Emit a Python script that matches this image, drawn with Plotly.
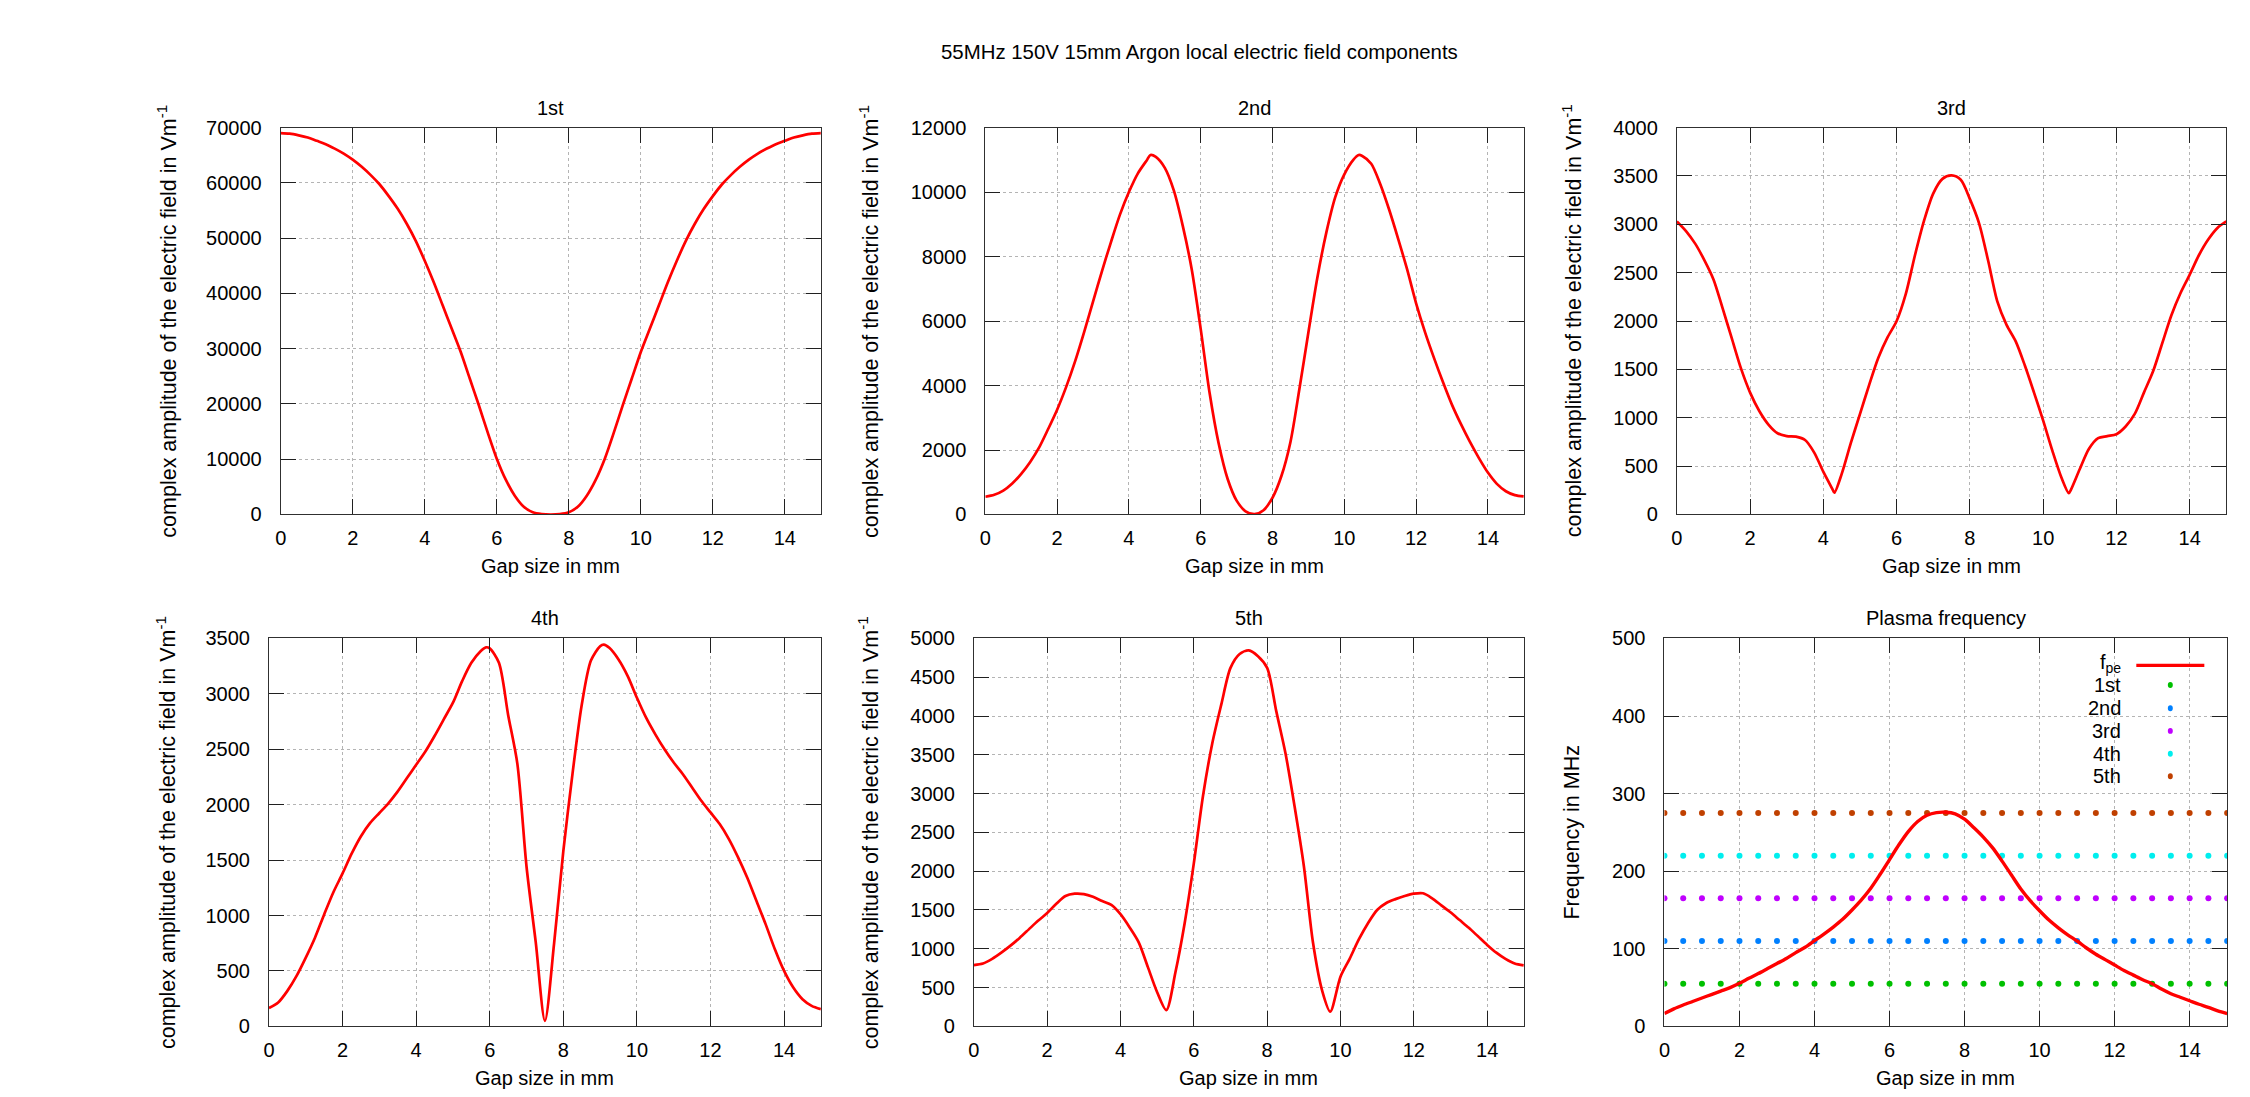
import plotly.graph_objects as go

W, H = 2250, 1097
FONT = "Liberation Sans"

# ---------------- data ----------------
# gap position in mm (quarter-mm grid, with a few extra points at extrema)
x_1st = [0, 0.25, 0.5, 0.75, 1.0, 1.25, 1.5, 1.75, 2.0, 2.25, 2.5, 2.75, 3.0, 3.25, 3.5, 3.75,
         4.0, 4.25, 4.5, 4.75, 5.0, 5.25, 5.5, 5.75, 6.0, 6.25, 6.5, 6.75, 7.0, 7.25, 7.5,
         7.75, 8.0, 8.25, 8.5, 8.75, 9.0, 9.25, 9.5, 9.75, 10.0, 10.25, 10.5, 10.75, 11.0,
         11.25, 11.5, 11.75, 12.0, 12.25, 12.5, 12.75, 13.0, 13.25, 13.5, 13.75, 14.0, 14.25,
         14.5, 14.75, 15.0]
e_1st = [69000, 68900, 68600, 68200, 67600, 67000, 66200, 65300, 64200, 62900, 61400, 59700,
         57600, 55300, 52600, 49500, 45900, 42000, 37800, 33600, 29400, 24600, 19800, 14800,
         10100, 6300, 3400, 1400, 400, 80, 0,
         80, 400, 1400, 3400, 6300, 10100, 14800, 19800, 24600, 29400, 33600, 37800, 42000,
         45900, 49500, 52600, 55300, 57600, 59700, 61400, 62900, 64200, 65300, 66200, 67000,
         67600, 68200, 68600, 68900, 69000]

x_2nd = [0, 0.25, 0.5, 0.75, 1.0, 1.25, 1.5, 1.75, 2.0, 2.25, 2.5, 2.75, 3.0, 3.25, 3.5, 3.75,
         4.0, 4.25, 4.5, 4.6, 4.75, 5.0, 5.25, 5.5, 5.75, 6.0, 6.25, 6.5, 6.75, 7.0, 7.25, 7.5,
         7.75, 8.0, 8.25, 8.5, 8.75, 9.0, 9.25, 9.5, 9.75, 10.0, 10.25, 10.4, 10.5, 10.75, 11.0,
         11.25, 11.5, 11.75, 12.0, 12.25, 12.5, 12.75, 13.0, 13.25, 13.5, 13.75, 14.0, 14.25,
         14.5, 14.75, 15.0]
e_2nd = [550, 610, 740, 960, 1260, 1630, 2080, 2650, 3250, 3950, 4750, 5650, 6600, 7550, 8450,
         9300, 10000, 10580, 10990, 11150, 11090, 10750, 10050, 8950, 7600, 5750, 3750, 2200,
         1100, 430, 100, 10, 130, 520, 1200, 2250, 3900, 5650, 7350, 8750, 9850, 10550, 11000,
         11150, 11120, 10880, 10250, 9450, 8550, 7600, 6550, 5650, 4850, 4100, 3400, 2800,
         2250, 1750, 1300, 950, 720, 600, 560]

x_3rd = [0, 0.25, 0.5, 0.75, 1.0, 1.25, 1.5, 1.75, 2.0, 2.25, 2.5, 2.75, 3.0, 3.25, 3.5, 3.75,
         4.0, 4.25, 4.3, 4.5, 4.75, 5.0, 5.25, 5.5, 5.75, 6.0, 6.25, 6.5, 6.75, 7.0, 7.25, 7.5,
         7.75, 8.0, 8.25, 8.5, 8.75, 9.0, 9.25, 9.5, 9.75, 10.0, 10.25, 10.5, 10.7, 10.75, 11.0,
         11.25, 11.5, 11.75, 12.0, 12.25, 12.5, 12.75, 13.0, 13.25, 13.5, 13.75, 14.0, 14.25,
         14.5, 14.75, 15.0]
e_3rd = [3030, 2930, 2800, 2630, 2430, 2130, 1820, 1510, 1260, 1070, 930, 840, 810, 805, 770,
         640, 440, 260, 225, 420, 740, 1040, 1340, 1620, 1830, 2000, 2280, 2680, 3040, 3320,
         3470, 3505, 3460, 3260, 3010, 2620, 2200, 1960, 1790, 1540, 1260, 970, 660, 380, 220,
         250, 470, 680, 790, 810, 830, 910, 1040, 1260, 1480, 1770, 2060, 2290, 2480, 2680,
         2840, 2960, 3030]

x_4th = [0, 0.25, 0.5, 0.75, 1.0, 1.25, 1.5, 1.75, 2.0, 2.25, 2.5, 2.75, 3.0, 3.25, 3.5, 3.75,
         4.0, 4.25, 4.5, 4.75, 5.0, 5.25, 5.5, 5.75, 5.9, 6.0, 6.25, 6.5, 6.75, 7.0, 7.25, 7.5,
         7.75, 8.0, 8.25, 8.5, 8.75, 9.0, 9.1, 9.25, 9.5, 9.75, 10.0, 10.25, 10.5, 10.75, 11.0,
         11.25, 11.5, 11.75, 12.0, 12.25, 12.5, 12.75, 13.0, 13.25, 13.5, 13.75, 14.0, 14.25,
         14.5, 14.75, 15.0]
e_4th = [165, 215, 320, 455, 620, 800, 1010, 1210, 1380, 1560, 1715, 1835, 1925, 2015, 2120,
         2240, 2360, 2480, 2620, 2770, 2920, 3115, 3280, 3385, 3420, 3410, 3280, 2810, 2370,
         1440, 760, 50, 750, 1580, 2280, 2900, 3300, 3430, 3445, 3415, 3310, 3160, 2965, 2785,
         2635, 2500, 2380, 2275, 2155, 2035, 1930, 1825, 1690, 1525, 1340, 1130, 920, 695, 500,
         350, 245, 185, 155]

x_5th = [0, 0.25, 0.5, 0.75, 1.0, 1.25, 1.5, 1.75, 2.0, 2.25, 2.5, 2.75, 3.0, 3.25, 3.5, 3.75,
         4.0, 4.25, 4.5, 4.75, 5.0, 5.25, 5.5, 5.75, 6.0, 6.25, 6.5, 6.75, 7.0, 7.25, 7.5,
         7.75, 8.0, 8.25, 8.5, 8.75, 9.0, 9.25, 9.5, 9.72, 10.0, 10.25, 10.5, 10.75, 11.0,
         11.25, 11.5, 11.75, 12.0, 12.25, 12.5, 12.75, 13.0, 13.25, 13.5, 13.75, 14.0, 14.25,
         14.5, 14.75, 15.0]
e_5th = [790, 810, 870, 950, 1040, 1140, 1250, 1360, 1460, 1580, 1680, 1710, 1705, 1670, 1615,
         1565, 1445, 1275, 1080, 760, 440, 210, 700, 1330, 2100, 2970, 3640, 4150, 4620, 4800,
         4845, 4770, 4620, 4060, 3520, 2830, 2070, 1080, 460, 190, 640, 870, 1120, 1330, 1500,
         1590, 1640, 1680, 1710, 1715, 1650, 1560, 1470, 1370, 1270, 1160, 1050, 950, 870, 810,
         785]

# electron plasma frequency across the gap (MHz)
x_fpe = [0, 0.25, 0.5, 0.75, 1.0, 1.25, 1.5, 1.75, 2.0, 2.25, 2.5, 2.75, 3.0, 3.25, 3.5, 3.75,
         4.0, 4.25, 4.5, 4.75, 5.0, 5.25, 5.5, 5.75, 6.0, 6.25, 6.5, 6.75, 7.0, 7.25, 7.5,
         7.75, 8.0, 8.25, 8.5, 8.75, 9.0, 9.25, 9.5, 9.75, 10.0, 10.25, 10.5, 10.75, 11.0,
         11.25, 11.5, 11.75, 12.0, 12.25, 12.5, 12.75, 13.0, 13.25, 13.5, 13.75, 14.0, 14.25,
         14.5, 14.75, 15.0]
f_pe = [16.5, 22.5, 27.5, 32, 36.5, 41, 45.5, 50, 55.5, 62, 68, 74.5, 81, 87.5, 95, 102, 110.5,
        119, 128, 138, 150, 163, 178, 196, 215, 234, 251, 264, 272, 275.5, 276,
        274, 267, 256, 244, 230, 213, 195, 177, 162, 149, 137, 127, 118, 110, 101, 93, 86, 79,
        72, 66, 60, 55, 48, 42, 37.5, 33, 28.5, 24.5, 20, 16.5]

# harmonics of the 55 MHz drive
harmonic_names = ["1st", "2nd", "3rd", "4th", "5th"]
harmonic_freqs = [55, 110, 165, 220, 275]
harmonic_colors = ["#00c000", "#0080ff", "#c000ff", "#00eeee", "#c04000"]
harmonic_x = [0, 0.5, 1, 1.5, 2, 2.5, 3, 3.5, 4, 4.5, 5, 5.5, 6, 6.5, 7, 7.5, 8, 8.5, 9, 9.5,
              10, 10.5, 11, 11.5, 12, 12.5, 13, 13.5, 14, 14.5, 15]

panel_titles = ["1st", "2nd", "3rd", "4th", "5th", "Plasma frequency"]
y_ranges = [70000, 12000, 4000, 3500, 5000, 500]
y_dticks = [10000, 2000, 500, 500, 500, 100]

field_series = [(x_1st, e_1st), (x_2nd, e_2nd), (x_3rd, e_3rd), (x_4th, e_4th), (x_5th, e_5th)]

# ---------------- layout geometry (pixels) ----------------
panels_px = [
    (280.0, 820.0, 127.7, 515.7),
    (984.4, 1522.7, 127.7, 515.7),
    (1675.7, 2225.0, 127.7, 515.7),
    (268.3, 820.0, 640.0, 1029.0),
    (972.9, 1522.7, 640.0, 1029.0),
    (1663.3, 2225.8, 640.0, 1029.0),
]
ylabel_x_px = [166, 868, 1571]


def px(xp):
    # horizontal pixel -> paper fraction, with a small correction for the page fit
    xp = (xp - 5.4) / 0.997
    return xp / W


def py(yp):
    # vertical pixel -> paper fraction, with a small correction for the page fit
    yp = (yp - 10.8) / 0.9827
    return 1 - yp / H


fig = go.Figure()

for i, (xs, ys) in enumerate(field_series):
    n = "" if i == 0 else str(i + 1)
    fig.add_trace(go.Scatter(x=xs, y=ys, mode="lines", xaxis="x" + n, yaxis="y" + n,
                             line=dict(color="#ff0000", width=2.7, shape="spline",
                                       smoothing=0.8),
                             showlegend=False))

for name, f, c in zip(harmonic_names, harmonic_freqs, harmonic_colors):
    fig.add_trace(go.Scatter(x=harmonic_x, y=[f] * len(harmonic_x), mode="markers",
                             xaxis="x6", yaxis="y6", name=name,
                             marker=dict(color=c, size=6, symbol="circle"), showlegend=False))

fig.add_trace(go.Scatter(x=x_fpe, y=f_pe, mode="lines", xaxis="x6", yaxis="y6",
                         line=dict(color="#ff0000", width=3.4, shape="spline", smoothing=0.8),
                         showlegend=False))

axis_common = dict(
    showline=True, linecolor="#303030", linewidth=1, mirror="ticks",
    ticks="inside", ticklen=15, tickwidth=1, tickcolor="#202020",
    showgrid=True, gridcolor="#b4b4b4", griddash="dot", gridwidth=1,
    zeroline=False, tickfont=dict(family=FONT, size=20, color="#000000"),
)

layout = dict(
    width=W, height=H, margin=dict(l=0, r=0, t=0, b=0, pad=0),
    autosize=False,
    paper_bgcolor="white", plot_bgcolor="white",
    font=dict(family=FONT, size=20, color="#000000"),
    showlegend=False,
)

annotations = []
for i, (x0, x1, y0, y1) in enumerate(panels_px):
    n = "" if i == 0 else str(i + 1)
    layout["xaxis" + n] = dict(axis_common, domain=[px(x0), px(x1)], range=[0, 15],
                               dtick=2, tick0=0, anchor="y" + n, ticklabelstandoff=6)
    layout["yaxis" + n] = dict(axis_common, domain=[py(y1), py(y0)], range=[0, y_ranges[i]],
                               dtick=y_dticks[i], tick0=0, anchor="x" + n, tickformat="d",
                               ticklabelstandoff=14)
    cx = (x0 + x1) / 2
    annotations.append(dict(text=panel_titles[i], x=px(cx), y=py(y0 - 20), xref="paper",
                            yref="paper", showarrow=False, xanchor="center", yanchor="middle",
                            font=dict(family=FONT, size=20)))
    annotations.append(dict(text="Gap size in mm", x=px(cx), y=py(y1 + 52), xref="paper",
                            yref="paper", showarrow=False, xanchor="center", yanchor="middle",
                            font=dict(family=FONT, size=20)))
    ylab = "Frequency in MHz" if i == 5 else "complex amplitude of the electric field in Vm<sup>-1</sup>"
    annotations.append(dict(text=ylab, x=px(ylabel_x_px[i % 3]), y=py((y0 + y1) / 2),
                            xref="paper", yref="paper", showarrow=False, textangle=-90,
                            xanchor="center", yanchor="middle", font=dict(family=FONT, size=21.5)))

annotations.append(dict(text="55MHz 150V 15mm Argon local electric field components",
                        x=px(938), y=py(52), xref="paper", yref="paper", showarrow=False,
                        xanchor="left", yanchor="middle", font=dict(family=FONT, size=20.4)))

# key for the plasma-frequency panel: label text right-aligned, sample on the right
shapes = []
key_text_x = 2122
key_rows_y = [665, 686.7, 710, 732.7, 755.7, 778.3]
annotations.append(dict(text="f<sub>pe</sub>", x=px(key_text_x), y=py(key_rows_y[0]),
                        xref="paper", yref="paper", showarrow=False, xanchor="right",
                        yanchor="middle", font=dict(family=FONT, size=20)))
shapes.append(dict(type="line", xref="paper", yref="paper", x0=px(2135), x1=px(2203),
                   y0=py(667), y1=py(667), line=dict(color="#ff0000", width=3.4)))
for name, c, yr in zip(harmonic_names, harmonic_colors, key_rows_y[1:]):
    annotations.append(dict(text=name, x=px(key_text_x), y=py(yr), xref="paper",
                            yref="paper", showarrow=False, xanchor="right", yanchor="middle",
                            font=dict(family=FONT, size=20)))
    shapes.append(dict(type="circle", xref="paper", yref="paper",
                       x0=px(2169 - 2.5), x1=px(2169 + 2.5), y0=py(yr + 3), y1=py(yr - 3),
                       fillcolor=c, line=dict(color=c, width=0)))

layout["annotations"] = annotations
layout["shapes"] = shapes
fig.update_layout(**layout)

fig.write_html("out.html")
